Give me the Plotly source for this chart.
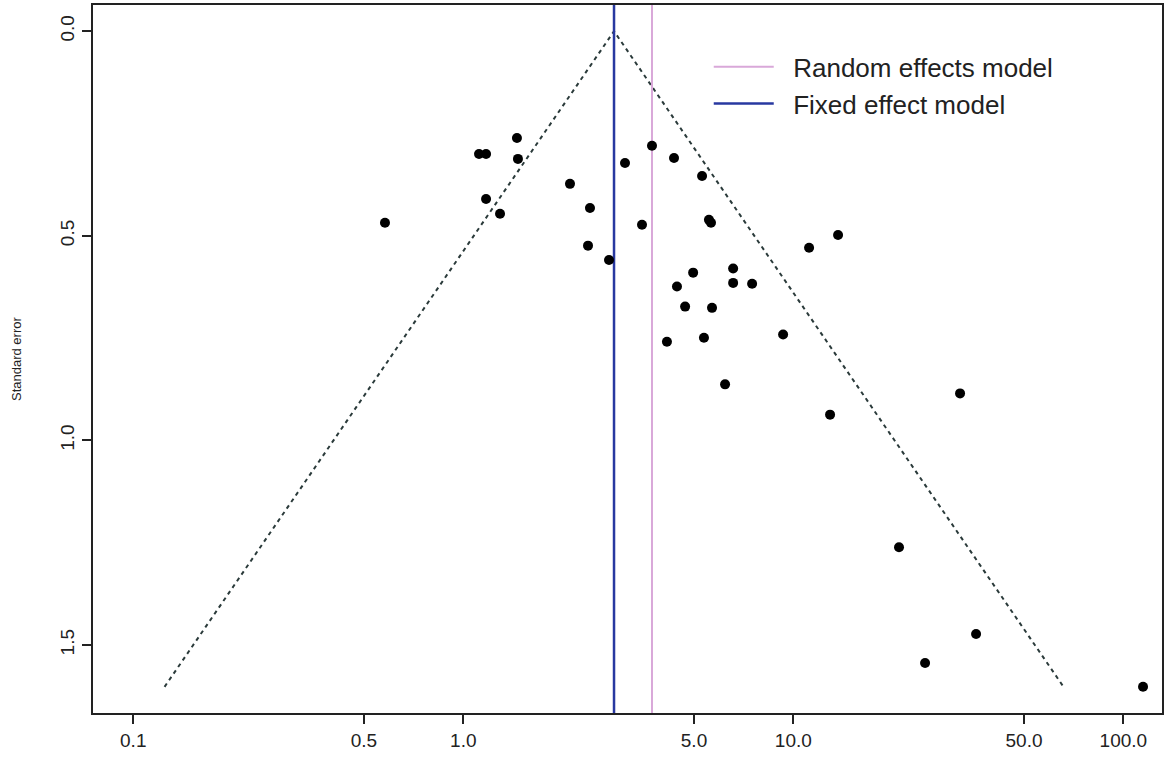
import plotly.graph_objects as go

# Study estimates (odds ratio scale) and standard errors
study_or = [0.579, 1.116, 1.172, 1.454, 1.464, 1.172, 1.292, 2.105, 2.420, 2.387,
            2.764, 3.090, 3.730, 3.479, 4.350, 5.290, 5.550, 5.630, 4.970, 4.440,
            6.570, 6.570, 7.500, 4.700, 5.670, 4.140, 5.360, 9.310, 6.210, 11.16,
            13.66, 12.92, 32.00, 20.90, 25.07, 35.78, 114.7]
study_se = [0.468, 0.300, 0.300, 0.261, 0.312, 0.410, 0.446, 0.373, 0.432, 0.524,
            0.559, 0.322, 0.280, 0.473, 0.310, 0.354, 0.461, 0.468, 0.590, 0.624,
            0.580, 0.615, 0.617, 0.673, 0.676, 0.759, 0.749, 0.741, 0.863, 0.529,
            0.498, 0.937, 0.885, 1.261, 1.544, 1.473, 1.602]

fixed_effect = 2.862
random_effect = 3.73

funnel_x = [0.1244, 2.862, 65.85]
funnel_y = [1.602, 0.0, 1.602]

x_ticks = [0.1, 0.5, 1.0, 5.0, 10.0, 50.0, 100.0]
x_tick_labels = ["0.1", "0.5", "1.0", "5.0", "10.0", "50.0", "100.0"]
y_ticks = [0.0, 0.5, 1.0, 1.5]
y_tick_labels = ["0.0", "0.5", "1.0", "1.5"]

y_range = [1.666, -0.064]
font_family = "Liberation Sans, Arial, sans-serif"
pad = "\u00a0\u00a0"

fig = go.Figure()

fig.add_trace(go.Scatter(
    x=funnel_x, y=funnel_y, mode="lines",
    line=dict(color="#2a3a3a", width=2, dash="4px,4px"),
    showlegend=False, hoverinfo="skip"))

fig.add_trace(go.Scatter(
    x=[random_effect, random_effect], y=[y_range[1], y_range[0]], mode="lines",
    line=dict(color="#d9a8d9", width=2), name=pad + "Random effects model"))

fig.add_trace(go.Scatter(
    x=[fixed_effect, fixed_effect], y=[y_range[1], y_range[0]], mode="lines",
    line=dict(color="#2838a0", width=2.5), name=pad + "Fixed effect model"))

fig.add_trace(go.Scatter(
    x=study_or, y=study_se, mode="markers",
    marker=dict(color="black", size=10),
    showlegend=False))

fig.update_layout(
    width=1165, height=763,
    margin=dict(l=93, r=3, t=5, b=50),
    paper_bgcolor="white", plot_bgcolor="white",
    font=dict(family=font_family, color="#222"),
    legend=dict(x=0.576, y=0.946, xanchor="left", yanchor="top",
                bgcolor="rgba(0,0,0,0)", font=dict(size=26, color="#222"),
                itemwidth=60, tracegroupgap=0),
    annotations=[dict(text="Standard error", xref="paper", yref="paper",
                      x=-0.072, y=0.5, xanchor="center", yanchor="middle",
                      textangle=-90, showarrow=False,
                      font=dict(size=13, color="#222"))],
)

fig.update_xaxes(
    type="log", range=[-1.122, 2.117], automargin=False,
    tickvals=x_ticks, ticktext=x_tick_labels,
    ticks="outside", ticklen=9, tickwidth=1.5, tickcolor="#222",
    showline=True, linecolor="#222", linewidth=2, mirror=True,
    showgrid=False, zeroline=False,
    tickfont=dict(size=19, color="#222"))

fig.update_yaxes(
    range=y_range, automargin=False,
    tickvals=y_ticks, ticktext=y_tick_labels, tickangle=-90,
    ticks="outside", ticklen=9, tickwidth=1.5, tickcolor="#222",
    showline=True, linecolor="#222", linewidth=2, mirror=True,
    showgrid=False, zeroline=False,
    tickfont=dict(size=19, color="#222"))

fig.write_html("out.html", config={"displayModeBar": False},
               post_script="document.body.style.margin='0';")
